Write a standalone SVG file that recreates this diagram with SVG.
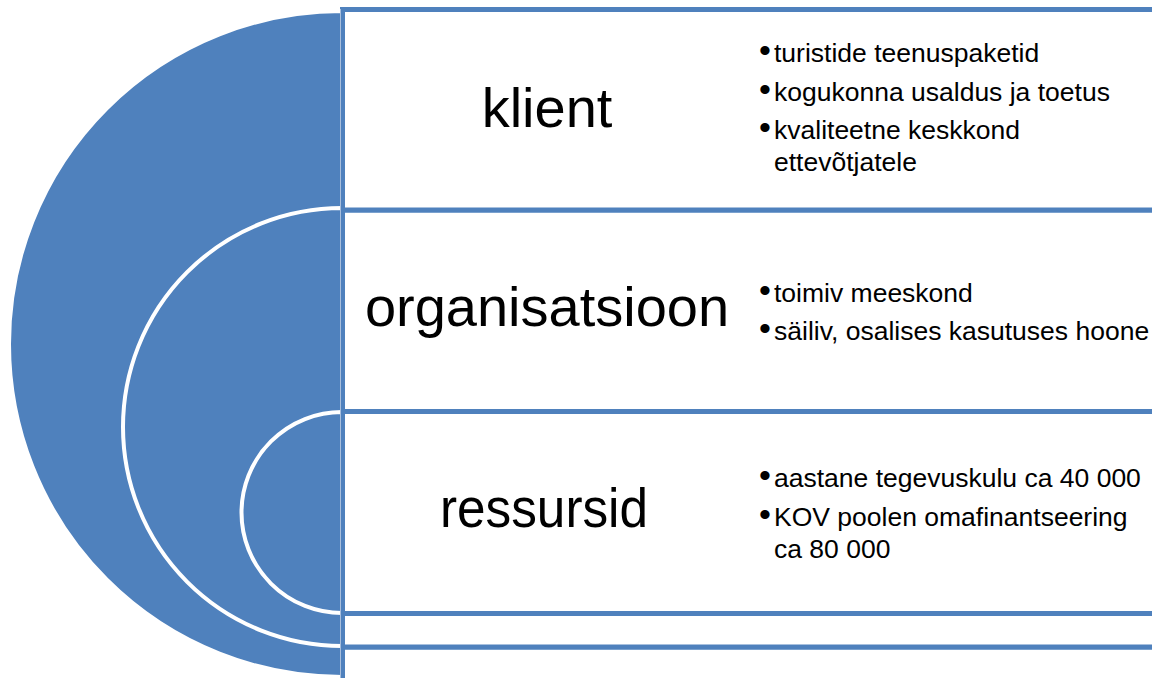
<svg xmlns="http://www.w3.org/2000/svg" width="1152" height="678" viewBox="0 0 1152 678">
  <style>
    .disc { fill: #4F81BD; stroke: #FFFFFF; stroke-width: 4; }
    .box { fill: #FFFFFF; stroke: #4F81BD; stroke-width: 5; }
    .title { font-family: "Liberation Sans", Arial, sans-serif; font-size: 56px; fill: #000000; text-anchor: middle; }
    .item { font-family: "Liberation Sans", Arial, sans-serif; font-size: 26.5px; fill: #000000; }
    .bul { font-size: 34px; }
  </style>
  <rect width="1152" height="678" fill="#FFFFFF"/>
  <g id="arcs">
    <path class="disc" d="M342,11 A333,333 0 0 0 342,677 Z"/>
    <path class="disc" d="M342,208 A219,219 0 0 0 342,646 Z"/>
    <path class="disc" d="M342,412 A100.5,100.5 0 0 0 342,613 Z"/>
  </g>
  <g id="extra-rows">
    <rect class="box" x="342.5" y="647" width="860" height="60"/>
    <rect class="box" x="342.5" y="613.5" width="860" height="33.5"/>
  </g>
  <g id="node-ressursid">
    <rect class="box" x="342.5" y="411.5" width="860" height="202"/>
    <text class="title" x="544" y="527" textLength="208" lengthAdjust="spacingAndGlyphs">ressursid</text>
    <text class="item" x="759" y="487"><tspan class="bul">•</tspan><tspan x="774">aastane tegevuskulu ca 40 000</tspan></text>
    <text class="item" x="759" y="526"><tspan class="bul">•</tspan><tspan x="774">KOV poolen omafinantseering</tspan></text>
    <text class="item" x="774" y="558">ca 80 000</text>
  </g>
  <g id="node-organisatsioon">
    <rect class="box" x="342.5" y="210" width="860" height="201.5"/>
    <text class="title" x="547" y="326">organisatsioon</text>
    <text class="item" x="759" y="302"><tspan class="bul">•</tspan><tspan x="774">toimiv meeskond</tspan></text>
    <text class="item" x="759" y="340"><tspan class="bul">•</tspan><tspan x="774">säiliv, osalises kasutuses hoone</tspan></text>
  </g>
  <g id="node-klient">
    <rect class="box" x="342.5" y="9.5" width="860" height="200.5"/>
    <text class="title" x="547" y="127">klient</text>
    <text class="item" x="759" y="62"><tspan class="bul">•</tspan><tspan x="774">turistide teenuspaketid</tspan></text>
    <text class="item" x="759" y="101"><tspan class="bul">•</tspan><tspan x="774">kogukonna usaldus ja toetus</tspan></text>
    <text class="item" x="759" y="139"><tspan class="bul">•</tspan><tspan x="774">kvaliteetne keskkond</tspan></text>
    <text class="item" x="774" y="171">ettevõtjatele</text>
  </g>
  <line x1="340.5" y1="9" x2="340.5" y2="678" stroke="#A7BEDD" stroke-width="1"/>
</svg>
